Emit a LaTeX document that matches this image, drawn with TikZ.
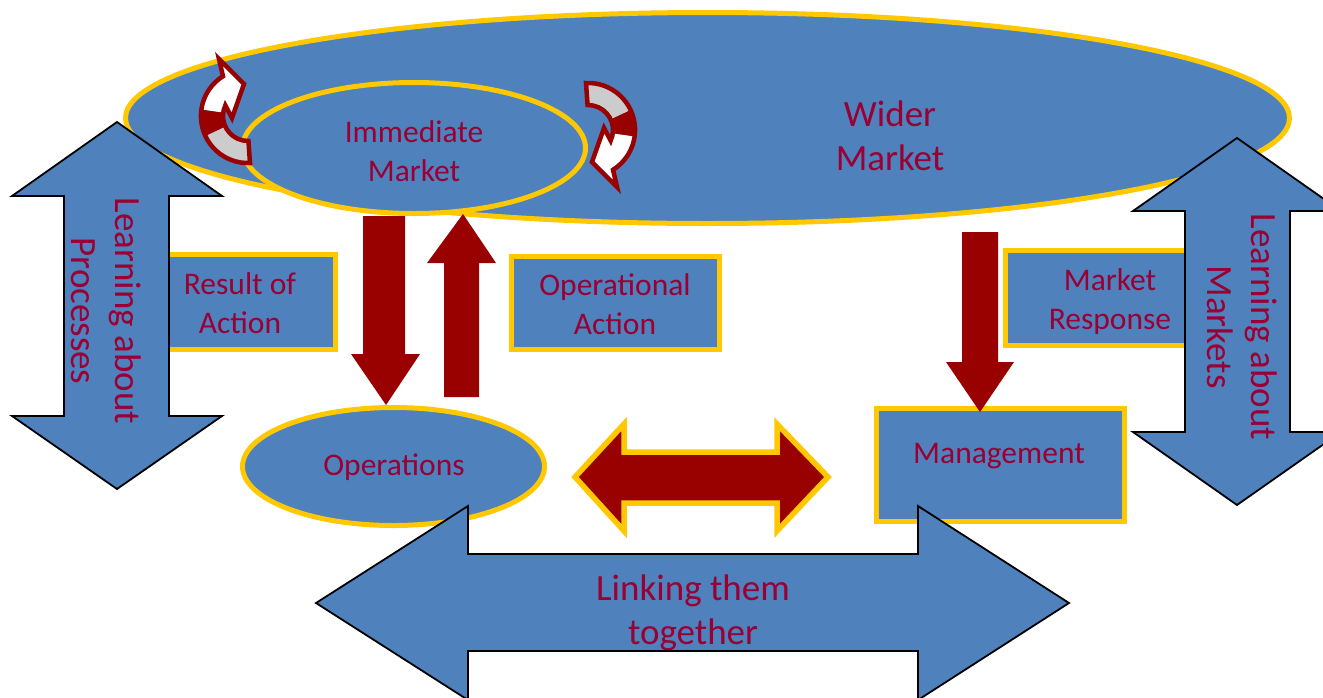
\documentclass[tikz,border=0pt]{standalone}
\usepackage{fontspec}
\setmainfont{Carlito}
\usetikzlibrary{shapes.geometric}
\definecolor{blu}{HTML}{4F81BD}
\definecolor{gld}{HTML}{FFC800}
\definecolor{dred}{HTML}{990000}
\definecolor{txt}{HTML}{990033}
\definecolor{lgray}{HTML}{CCCCCC}
\tikzset{
 smalltxt/.style={font=\fontsize{31.5}{39}\selectfont, text=txt, align=center, inner sep=0pt},
 bigtxt/.style={font=\fontsize{37}{44.5}\selectfont, text=txt, align=center, inner sep=0pt},
 goldell/.style={ellipse, fill=blu, draw=gld, line width=5pt, inner sep=0pt, smalltxt},
 goldbox/.style={rectangle, fill=blu, draw=gld, line width=5pt, inner sep=0pt, smalltxt},
 bluearrow/.style={fill=blu, draw=black, line width=1.8pt, line join=miter},
 redarrow/.style={fill=dred},
 redgold/.style={fill=dred, draw=gld, line width=5.5pt, line join=miter, miter limit=10},
 curvarrow/.pic={
  \begin{scope}
   \clip (2,51) arc[start angle=87.5,end angle=237.9,radius=47] -- (-29,-53) -- (-4,-28) -- (-16,6) -- (-22.66,-6.57) arc[start angle=205,end angle=89,radius=25] -- cycle;
   \fill[lgray] (0,4) -- ++(80:75) arc[start angle=80,end angle=155,radius=75] -- cycle;
   \fill[dred] (0,4) -- ++(155:75) arc[start angle=155,end angle=188,radius=75] -- cycle;
   \fill[white] (0,4) -- ++(188:75) arc[start angle=188,end angle=300,radius=75] -- cycle;
  \end{scope}
  \draw[dred, line width=4.5pt, line join=miter] (2,51) arc[start angle=87.5,end angle=237.9,radius=47] -- (-29,-53) -- (-4,-28) -- (-16,6) -- (-22.66,-6.57) arc[start angle=205,end angle=89,radius=25] -- cycle;
 }
}
\begin{document}
\begin{tikzpicture}[x=1pt,y=-1pt]
\clip (0,0) rectangle (1323,697);
\fill[white] (0,0) rectangle (1323,697);

% ellipses
\node[goldell, minimum width=1164pt, minimum height=211pt] (wider) at (707.5,118) {};
\node[goldell, minimum width=343pt, minimum height=131pt] (imm) at (414,148) {};
\node[smalltxt] (immtxt) at (414,151) {Immediate\\Market};
\node[bigtxt] (widertxt) at (890,136) {Wider\\Market};

% curved arrows
\pic at (248,112) {curvarrow};
\pic[rotate=180] at (588,134) {curvarrow};

% boxes
\node[goldbox, minimum width=190pt, minimum height=95.5pt] (result) at (240,302) {};
\node[smalltxt] (resulttxt) at (240,303.5) {Result of\\Action};
\node[goldbox, minimum width=208pt, minimum height=93pt] (opact) at (615,302.5) {};
\node[smalltxt] (opacttxt) at (615,304.5) {Operational\\Action};
\node[goldbox, minimum width=209pt, minimum height=95pt] (mresp) at (1110,298) {};
\node[smalltxt] (mresptxt) at (1110,302) {Market\\Response};
\node[goldbox, minimum width=248pt, minimum height=113pt] (mgmt) at (1000,464.5) {};
\node[smalltxt] (mgmttxt) at (999,456) {Management};
\node[goldell, minimum width=302pt, minimum height=118pt] (ops) at (393.5,466.5) {};
\node[smalltxt] (opstxt) at (394,467) {Operations};

% red arrows
\fill[redarrow] (363,216) -- (405,216) -- (405,354) -- (420,354) -- (386,405) -- (351,354) -- (363,354) -- cycle;
\fill[redarrow] (444,397) -- (444,263) -- (427,263) -- (463,214) -- (496,263) -- (479,263) -- (479,397) -- cycle;
\fill[redarrow] (962,232) -- (998,232) -- (998,362) -- (1014,362) -- (980,412) -- (946,362) -- (962,362) -- cycle;
\draw[redgold] (575,477) -- (624,424) -- (624,452) -- (777,452) -- (777,424) -- (828,477) -- (777,531) -- (777,503) -- (624,503) -- (624,531) -- cycle;

% blue double arrows
\draw[bluearrow] (117,122) -- (222,196) -- (169,196) -- (169,416) -- (222,416) -- (117,489) -- (12,416) -- (64,416) -- (64,196) -- (12,196) -- cycle;
\node[bigtxt, rotate=-90] (lproc) at (106,311) {Learning about\\Processes};
\draw[bluearrow] (1237,138) -- (1341,211) -- (1290,211) -- (1290,432) -- (1341,432) -- (1237,505) -- (1133,432) -- (1185,432) -- (1185,211) -- (1133,211) -- cycle;
\node[bigtxt, rotate=-90] (lmark) at (1242,327) {Learning about\\Markets};
\draw[bluearrow] (316,603) -- (468,506) -- (468,554) -- (918,554) -- (918,506) -- (1069,603) -- (918,700) -- (918,651) -- (468,651) -- (468,700) -- cycle;
\node[bigtxt] (link) at (693,613) {Linking them\\together};
\end{tikzpicture}
\end{document}
